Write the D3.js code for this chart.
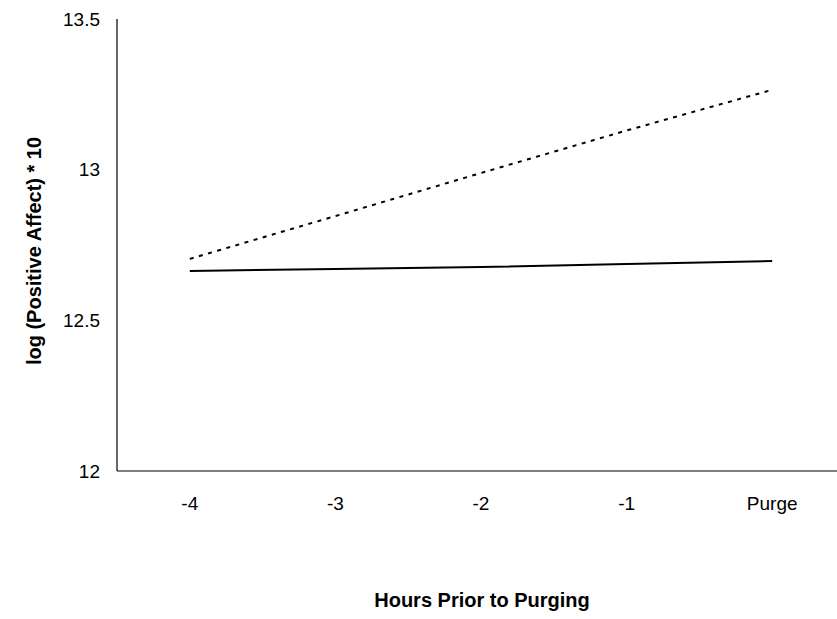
<!DOCTYPE html>
<html>
<head>
<meta charset="utf-8">
<script src="https://cdn.jsdelivr.net/npm/d3@7"></script>
<style>
  body { margin: 0; background: #fff; }
  text { font-family: Arial, "Liberation Sans", sans-serif; fill: #000; }
</style>
</head>
<body>
<svg id="chart" width="837" height="619"></svg>
<script>
// data
var timer = ["-4", "-3", "-2", "-1", "Purge"];
var heltrukket = [12.664, 12.670, 12.677, 12.687, 12.697];
var stiplet = [12.704, 12.846, 12.989, 13.130, 13.265];
var yTicks = [12, 12.5, 13, 13.5];

var svg = d3.select("#chart");

var x = d3.scaleBand()
    .domain(timer)
    .range([117, 845])
    .padding(0);

var y = d3.scaleLinear()
    .domain([12, 13.5])
    .range([471, 19]);

// akser uten tick-streker
svg.append("line")
    .attr("x1", 117).attr("x2", 117)
    .attr("y1", y(13.5)).attr("y2", y(12))
    .attr("stroke", "#000")
    .attr("stroke-width", 1.2);

svg.append("line")
    .attr("x1", 117).attr("x2", 845)
    .attr("y1", y(12)).attr("y2", y(12))
    .attr("stroke", "#000")
    .attr("stroke-width", 1.2);

svg.selectAll(".ytekst")
    .data(yTicks)
    .enter().append("text")
    .attr("class", "ytekst")
    .attr("x", 100)
    .attr("y", function(d) { return y(d); })
    .attr("dy", "0.35em")
    .attr("text-anchor", "end")
    .style("font-size", "19px")
    .text(function(d) { return d; });

svg.selectAll(".xtekst")
    .data(timer)
    .enter().append("text")
    .attr("class", "xtekst")
    .attr("x", function(d) { return x(d) + x.bandwidth() / 2; })
    .attr("y", 510)
    .attr("text-anchor", "middle")
    .style("font-size", "19px")
    .text(function(d) { return d; });

var linje = d3.line()
    .x(function(d, i) { return x(timer[i]) + x.bandwidth() / 2; })
    .y(function(d) { return y(d); });

svg.append("path")
    .datum(heltrukket)
    .attr("d", linje)
    .attr("fill", "none")
    .attr("stroke", "#000")
    .attr("stroke-width", 2);

svg.append("path")
    .datum(stiplet)
    .attr("d", linje)
    .attr("fill", "none")
    .attr("stroke", "#000")
    .attr("stroke-width", 2)
    .attr("stroke-dasharray", "4,5.5");

// aksetitler
svg.append("text")
    .attr("x", 482)
    .attr("y", 607)
    .attr("text-anchor", "middle")
    .style("font-size", "20px")
    .style("font-weight", "bold")
    .text("Hours Prior to Purging");

svg.append("text")
    .attr("transform", "translate(41,251) rotate(-90)")
    .attr("text-anchor", "middle")
    .style("font-size", "20px")
    .style("font-weight", "bold")
    .text("log (Positive Affect) * 10");
</script>
</body>
</html>
